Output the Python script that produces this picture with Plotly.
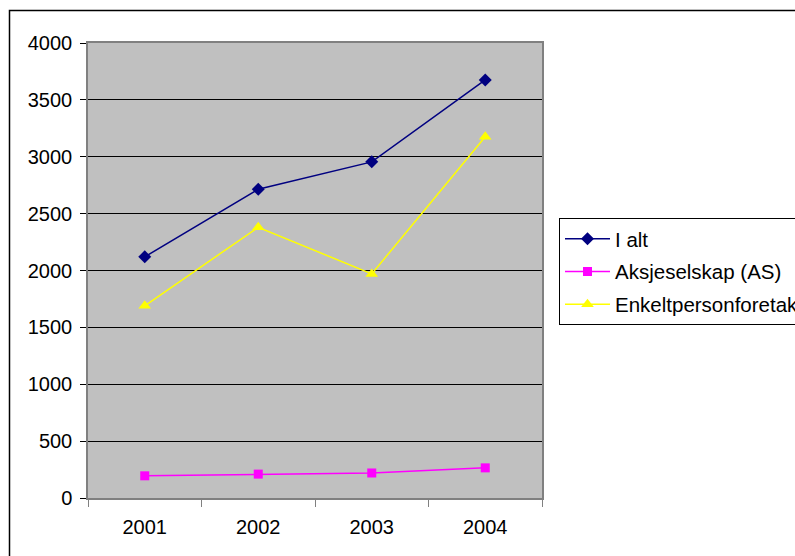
import plotly.graph_objects as go

years = ["2001", "2002", "2003", "2004"]
i_alt = [2120, 2715, 2955, 3675]
aksjeselskap = [195, 210, 220, 265]
enkeltperson = [1690, 2380, 1970, 3175]
y_ticks = [0, 500, 1000, 1500, 2000, 2500, 3000, 3500, 4000]

FONT = "Liberation Sans, Arial, sans-serif"

fig = go.Figure()
fig.add_trace(go.Scatter(
    x=years, y=i_alt, name="I alt", mode="lines+markers", legendgroup="a",
    line=dict(color="#000080", width=1.5),
    marker=dict(symbol="diamond", size=10, color="#000080"),
))
fig.add_trace(go.Scatter(
    x=years, y=aksjeselskap, name="Aksjeselskap (AS)", mode="lines+markers",
    legendgroup="b",
    line=dict(color="#FF00FF", width=1.5),
    marker=dict(symbol="square", size=9, color="#FF00FF"),
))
fig.add_trace(go.Scatter(
    x=years, y=enkeltperson, name="Enkeltpersonforetak", mode="lines+markers",
    legendgroup="c",
    line=dict(color="#FFFF00", width=1.5),
    marker=dict(symbol="triangle-up", size=11, color="#FFFF00"),
))

L, R, T, B = 88, 795 - 542, 43, 556 - 498
pw, ph = 795 - L - R, 556 - T - B

def px_x(p):
    return (p - L) / pw

def px_y(p):
    return (556 - B - p) / ph

# outer chart frame
fig.add_shape(type="rect", xref="paper", yref="paper",
              x0=px_x(9.5), x1=px_x(820), y0=px_y(600), y1=px_y(10.5),
              line=dict(color="black", width=1.5), fillcolor="rgba(0,0,0,0)",
              layer="below")

fig.update_layout(
    width=795, height=556,
    margin=dict(l=L, r=R, t=T, b=B, autoexpand=False),
    paper_bgcolor="white",
    plot_bgcolor="#C0C0C0",
    font=dict(family=FONT, size=20, color="black"),
    showlegend=True,
    legend=dict(
        x=px_x(559), y=px_y(218), xanchor="left", yanchor="top",
        bgcolor="white", bordercolor="black", borderwidth=1,
        font=dict(family=FONT, size=20.5, color="black"),
        itemwidth=45, tracegroupgap=3,
    ),
    xaxis=dict(
        type="category", tickson="boundaries", ticks="outside", ticklen=7,
        tickcolor="#808080", showgrid=False, showline=True, linecolor="#808080",
        linewidth=1.5, mirror=True, tickfont=dict(size=20), range=[-0.5, 3.5],
        ticklabelstandoff=10,
    ),
    yaxis=dict(
        range=[0, 4000], tickvals=y_ticks, ticks="outside", ticklen=6,
        tickcolor="black", showgrid=True, gridcolor="black", gridwidth=1,
        showline=True, linecolor="#808080", linewidth=1.5, mirror=True,
        zeroline=False, tickfont=dict(size=20), ticklabelstandoff=4,
    ),
)

fig.write_html("out.html")
